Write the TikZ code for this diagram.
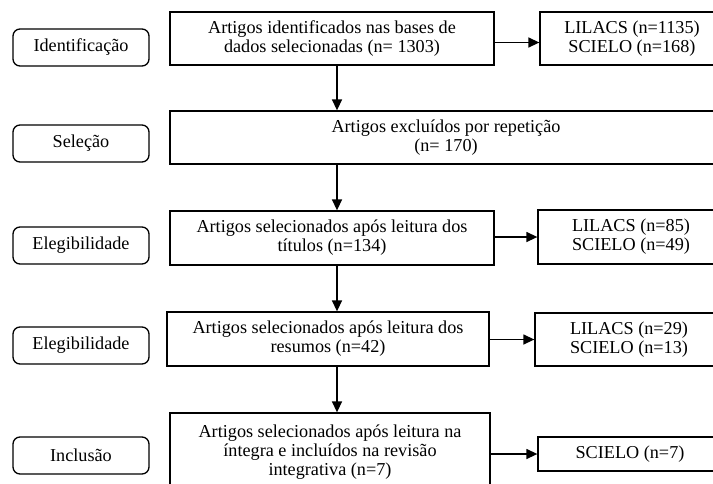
\documentclass[tikz,border=0pt]{standalone}
\usepackage{fontspec}
\setmainfont{Liberation Serif}
\usetikzlibrary{arrows.meta}
\begin{document}
\begin{tikzpicture}[x=1pt,y=-1pt,
  every node/.style={font=\fontsize{18.2}{19}\selectfont, align=center, inner sep=0pt},
  lbox/.style={draw, line width=1.3pt, rounded corners=7pt, minimum width=136pt, minimum height=37pt},
  cbox/.style={draw, line width=1.3pt},
  arr/.style={line width=1.4pt, -{Triangle[length=11pt,width=10pt]}}]
\useasboundingbox (0,0) rectangle (713,483);
\clip (0,0) rectangle (713,483);
\fill[white] (0,0) rectangle (713,483);
% left stage labels
\node[lbox] (L1) at (81,47.5) {Identificação};
\node[lbox] (L2) at (81,143.5) {Seleção};
\node[lbox] (L3) at (81,245.5) {Elegibilidade};
\node[lbox] (L4) at (81,345.5) {Elegibilidade};
\node[lbox] (L5) at (81,455.5) {Inclusão};
% centre boxes
\node[cbox, minimum width=324pt, minimum height=53pt] (B1) at (332,38.5)
  {Artigos identificados nas bases de\\dados selecionadas (n= 1303)};
\node[cbox, minimum width=552pt, minimum height=53pt] (B2) at (446,137.5)
  {Artigos excluídos por repetição\\(n= 170)};
\node[cbox, minimum width=324pt, minimum height=54pt] (B3) at (332,238)
  {Artigos selecionados após leitura dos\\títulos (n=134)};
\node[cbox, minimum width=322pt, minimum height=54pt] (B4) at (328,339)
  {Artigos selecionados após leitura dos\\resumos (n=42)};
\node[cbox, minimum width=320pt, minimum height=78pt] (B5) at (330,452)
  {Artigos selecionados após leitura na\\íntegra e incluídos na revisão\\integrativa (n=7)};
% right boxes
\node[cbox, minimum width=184pt, minimum height=53pt] (R1) at (632,38.5)
  {LILACS (n=1135)\\SCIELO (n=168)};
\node[cbox, minimum width=186pt, minimum height=54pt] (R3) at (631,237)
  {LILACS (n=85)\\SCIELO (n=49)};
\node[cbox, minimum width=188pt, minimum height=53pt] (R4) at (629,339.5)
  {LILACS (n=29)\\SCIELO (n=13)};
\node[cbox, minimum width=184pt, minimum height=34pt] (R5) at (630,454)
  {SCIELO (n=7)};
% vertical arrows
\coordinate (ax) at (337,0);
\draw[arr] (B1.south -| ax) -- (B2.north -| ax);
\draw[arr] (B2.south -| ax) -- (B3.north -| ax);
\draw[arr] (B3.south -| ax) -- (B4.north -| ax);
\draw[arr] (B4.south -| ax) -- (B5.north -| ax);
% horizontal arrows
\draw[arr] ([yshift=-4pt]B1.east) -- ([yshift=-4pt]R1.west);
\draw[arr] (B3.east |- R3.west) -- (R3.west);
\draw[arr] (B4.east |- R4.west) -- (R4.west);
\draw[arr] (B5.east |- R5.west) -- (R5.west);
\end{tikzpicture}
\end{document}
